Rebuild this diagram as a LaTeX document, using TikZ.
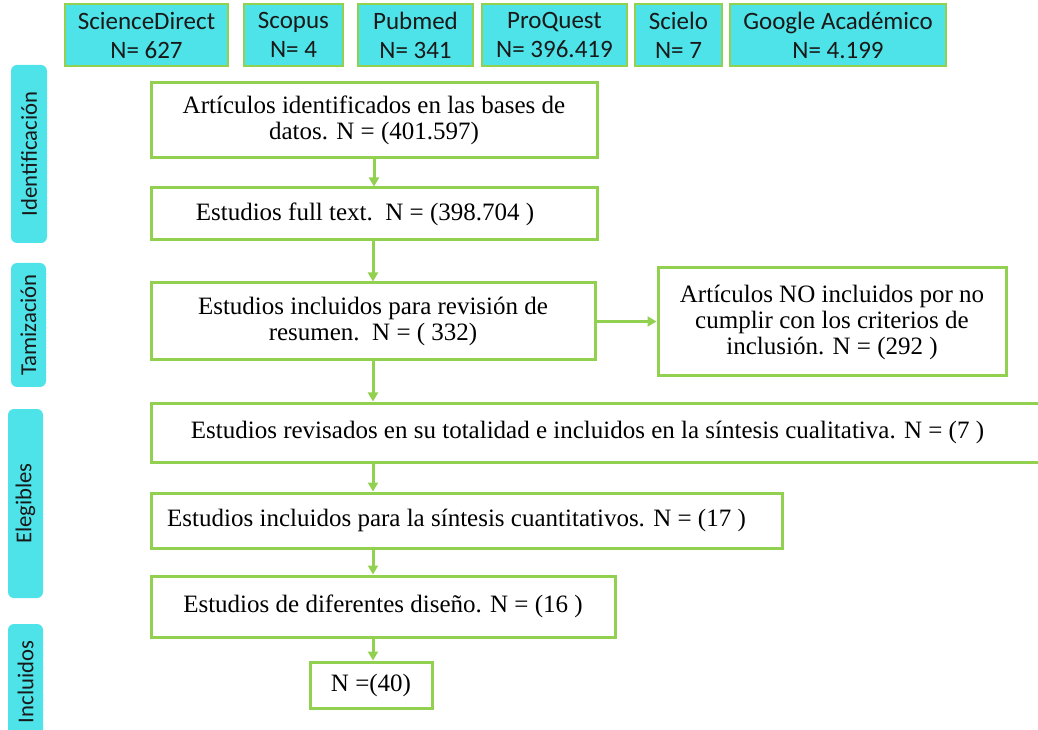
\documentclass[tikz,border=0pt]{standalone}
\usepackage{fontspec}
\setmainfont{Liberation Serif}
\newfontfamily\calibri{Carlito}
\usetikzlibrary{arrows.meta}
\definecolor{verde}{HTML}{92D050}
\definecolor{cian}{HTML}{4DE3E8}
\tikzset{
  caja/.style={draw=verde, line width=3pt, fill=white, align=center, inner sep=0pt,
    font=\fontsize{25}{26}\selectfont},
  base/.style={draw=verde, line width=1.2pt, fill=cian, align=center, inner sep=0pt,
    font=\calibri\fontsize{25}{29}\selectfont, text=black!90},
  fase/.style={fill=cian, rounded corners=6pt, inner sep=0pt, rotate=90,
    font=\calibri\fontsize{22.7}{26}\selectfont, text=black!90},
  flecha/.style={draw=verde, line width=3pt, -{Triangle[length=9pt,width=10pt]}}
}
\begin{document}
\begin{tikzpicture}[x=1pt,y=1pt]
      \useasboundingbox (0,0) rectangle (1038,729);
      \node[base, minimum width=163pt, minimum height=62pt] (sd) at (146.5,694) {ScienceDirect\\N= 627};
      \node[base, minimum width=99pt, minimum height=62pt] (scopus) at (293.5,694) {Scopus\\N= 4};
      \node[base, minimum width=115pt, minimum height=62pt] (pubmed) at (415.5,694) {Pubmed\\N= 341};
      \node[base, minimum width=145pt, minimum height=62pt] (proquest) at (554.5,694) {ProQuest\\N= 396.419};
      \node[base, minimum width=87pt, minimum height=62pt] (scielo) at (678.5,694) {Scielo\\N= 7};
      \node[base, minimum width=216pt, minimum height=62pt] (google) at (838,694) {Google Académico\\N= 4.199};
      \node[fase, minimum width=178pt, minimum height=36pt] (ident) at (29,575) {Identificación};
      \node[fase, minimum width=124pt, minimum height=35pt] (tamiz) at (28.5,404) {Tamización};
      \node[fase, minimum width=189pt, minimum height=35pt] (eleg) at (25.5,225.5) {Elegibles};
      \node[fase, minimum width=116pt, minimum height=35pt] (incl) at (25.5,47) {Incluidos};
      \node[caja, minimum width=446pt, minimum height=75pt] (id) at (374,608.5) {Artículos identificados en las bases de\\datos. N = (401.597)};
      \node[caja, minimum width=446pt, minimum height=52pt] (full) at (374,515) {Estudios full text.\ \ N = (398.704 )\hspace*{18pt}};
      \node[caja, minimum width=444pt, minimum height=77pt] (resumen) at (373,407.5) {Estudios incluidos para revisión de\\resumen.\ \ N = ( 332)};
      \node[caja, minimum width=348pt, minimum height=108pt] (excl) at (832,407) {Artículos NO incluidos por no\\cumplir con los criterios de\\inclusión. N = (292 )};
      \node[caja, minimum width=891pt, minimum height=59pt] (total) at (596.5,296.5) {Estudios revisados en su totalidad e incluidos en la síntesis cualitativa. N = (7 )\hspace*{18pt}};
      \node[caja, minimum width=631pt, minimum height=55pt] (cuanti) at (466.5,208.5) {Estudios incluidos para la síntesis cuantitativos. N = (17 )\hspace*{20pt}};
      \node[caja, minimum width=464pt, minimum height=61pt] (diseno) at (383,122.5) {Estudios de diferentes diseño. N = (16 )};
      \node[caja, minimum width=122pt, minimum height=46pt] (final) at (371,44) {N =(40)};
      \begin{scope}[flecha]
        \draw (id) -- (full);
        \draw (full.south -| resumen) -- (resumen.north);
        \draw (resumen) -- (resumen |- total.north);
        \draw (resumen |- total.south) -- (resumen |- cuanti.north);
        \draw (resumen |- cuanti.south) -- (resumen |- diseno.north);
        \draw (resumen |- diseno.south) -- (resumen |- final.north);
        \draw (resumen.east) -- (resumen.east -| excl.west);
      \end{scope}
\end{tikzpicture}
\end{document}
